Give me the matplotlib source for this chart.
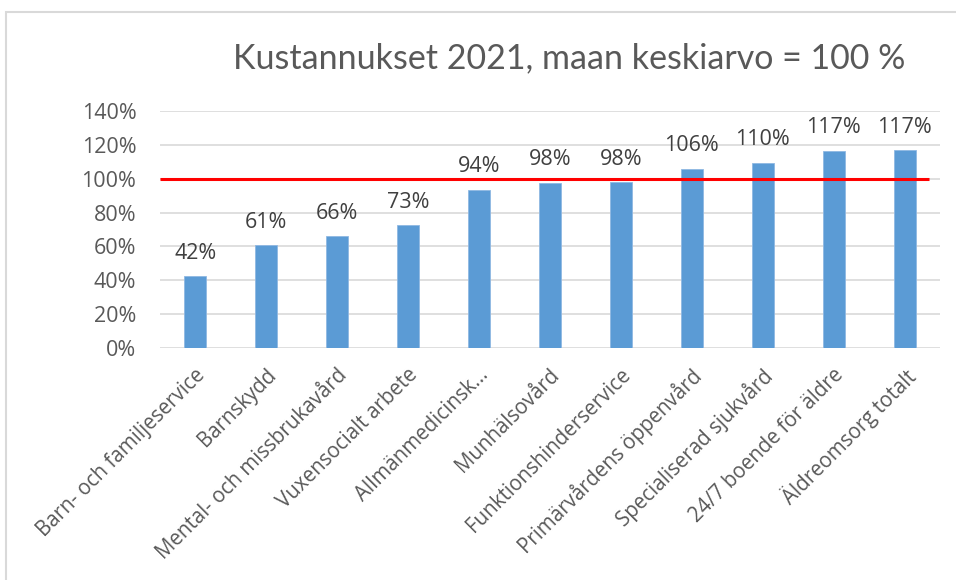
import matplotlib.pyplot as plt
from matplotlib.patches import Rectangle
from matplotlib.ticker import PercentFormatter
from matplotlib.transforms import ScaledTranslation

categories = [
    "Barn- och familjeservice",
    "Barnskydd",
    "Mental- och missbrukavård",
    "Vuxensocialt arbete",
    "Allmänmedicinsk...",
    "Munhälsovård",
    "Funktionshinderservice",
    "Primärvårdens öppenvård",
    "Specialiserad sjukvård",
    "24/7 boende för äldre",
    "Äldreomsorg totalt",
]
values = [42.4, 60.8, 65.9, 72.6, 93.6, 97.5, 97.8, 105.8, 109.5, 116.6, 116.9]
reference = 100
title = "Kustannukset 2021, maan keskiarvo = 100 %"

plt.rcParams["font.family"] = ["Open Sans", "DejaVu Sans"]
text_color = "#595959"
bar_color = "#5b9bd5"
grid_color = "#d9d9d9"

fig = plt.figure(figsize=(9.56, 5.8), dpi=100)
ax = fig.add_axes([160 / 956, 1 - 348 / 580, 780 / 956, 237 / 580])

# chart frame, cut off on the right and bottom like the screenshot
fig.patches.append(Rectangle((6 / 956, -0.1), 1.2, 1 - 12 / 580 + 0.1,
                             transform=fig.transFigure, fill=False,
                             edgecolor=grid_color, linewidth=1.5))

x = range(len(categories))
ax.bar(x, values, width=0.31, color=bar_color, edgecolor="#8fb8e3", linewidth=0.6, zorder=3)
for xi, v in zip(x, values):
    ax.annotate(f"{round(v)}%", (xi, v), xytext=(0, 9), textcoords="offset points",
                ha="center", va="bottom", fontsize=15.5, color="#404040")

ax.plot([-0.5, len(categories) - 0.65], [reference, reference], color="red",
        linewidth=2.2, zorder=4, solid_capstyle="butt")

ax.set_xlim(-0.5, len(categories) - 0.5)
ax.set_ylim(0, 140)
ax.set_yticks(range(0, 141, 20))
ax.yaxis.set_major_formatter(PercentFormatter(decimals=0))
ax.grid(axis="y", color=grid_color, linewidth=1.2, zorder=0)
for side in ["top", "right", "left", "bottom"]:
    ax.spines[side].set_visible(False)
ax.tick_params(axis="y", length=0, labelsize=15.5, colors=text_color, pad=17)
ax.tick_params(axis="x", length=0, labelsize=14.8, colors=text_color, pad=12)
ax.set_xticks(list(x))
ax.set_xticklabels(categories, rotation=45, ha="right", va="top", rotation_mode="anchor")
for lbl in ax.get_xticklabels():
    lbl.set_transform(lbl.get_transform() + ScaledTranslation(-1 / 100, 0, fig.dpi_scale_trans))

fig.text(569 / 956, 1 - 58 / 580, title, ha="center", va="center",
         fontsize=24.5, color=text_color, family=["Lato", "DejaVu Sans"])

fig.savefig("out.png", dpi=100)
